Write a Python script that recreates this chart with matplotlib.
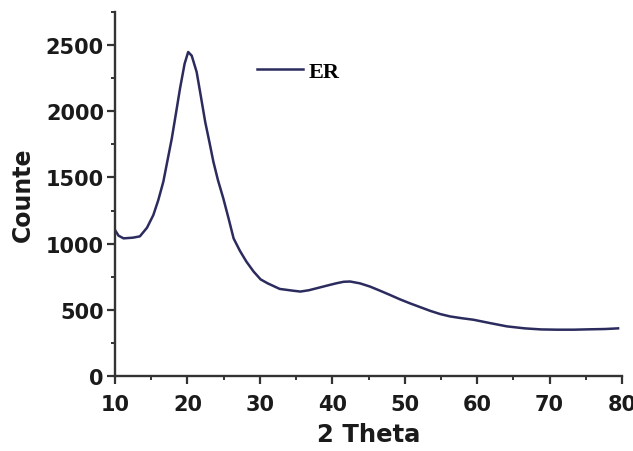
import matplotlib
matplotlib.use('Agg')
import matplotlib.pyplot as plt
from matplotlib.ticker import MultipleLocator

# XRD pattern
two_theta = [10.0, 10.49, 11.18, 12.45, 13.43, 14.41, 15.29, 15.98, 16.67, 17.25, 17.84,
             18.43, 18.97, 19.61, 20.10, 20.59, 21.27, 21.86, 22.45, 23.04, 23.58, 24.21,
             24.95, 25.68, 26.37, 27.25, 28.13, 29.12, 30.10, 31.08, 32.74, 34.51, 35.59,
             36.76, 37.84, 39.41, 40.59, 41.57, 42.45, 43.82, 45.19, 46.57, 47.94, 49.31,
             50.68, 52.15, 53.53, 54.90, 56.27, 57.84, 59.50, 61.76, 64.11, 66.56, 68.82,
             71.07, 73.33, 75.68, 77.64, 79.45]
counts = [1103, 1060, 1040, 1045, 1055, 1120, 1216, 1330, 1468, 1630, 1795,
          1990, 2171, 2360, 2448, 2420, 2297, 2110, 1920, 1765, 1619, 1480,
          1342, 1190, 1040, 945, 865, 790, 730, 700, 658, 645, 638,
          648, 663, 685, 701, 712, 714, 700, 676, 645, 613, 580,
          550, 520, 492, 468, 450, 437, 425, 400, 375, 360, 352,
          350, 350, 353, 355, 360]

fig = plt.figure(figsize=(6.33, 4.52), dpi=100)
ax = fig.add_axes([0.1817, 0.1659, 0.801, 0.8053])

ax.plot(two_theta, counts, color='#2b2b5e', linewidth=1.8, label='ER')

ax.set_xlim(10, 80)
ax.set_ylim(0, 2750)
ax.xaxis.set_major_locator(MultipleLocator(10))
ax.xaxis.set_minor_locator(MultipleLocator(5))
ax.yaxis.set_major_locator(MultipleLocator(500))
ax.yaxis.set_minor_locator(MultipleLocator(250))

for side in ['top', 'right']:
    ax.spines[side].set_visible(False)
for side in ['left', 'bottom']:
    ax.spines[side].set_linewidth(1.7)
    ax.spines[side].set_color('#333333')

ax.tick_params(which='major', direction='out', length=6, width=1.6, color='#333333',
               labelsize=15, pad=2)
ax.tick_params(axis='x', which='major', pad=7)
ax.tick_params(which='minor', direction='out', length=3, width=1.4, color='#333333')
for lbl in ax.get_xticklabels() + ax.get_yticklabels():
    lbl.set_fontweight('bold')
    lbl.set_color('#1a1a1a')

ax.set_xlabel('2 Theta', fontsize=17.5, fontweight='bold', color='#1a1a1a', labelpad=6)
ax.set_ylabel('Counte', fontsize=17, fontweight='bold', color='#1a1a1a', labelpad=8)

leg = ax.legend(loc='upper left', bbox_to_anchor=(0.24, 0.92), frameon=False,
                handlelength=2.1, handletextpad=0.25,
                prop={'family': 'Liberation Serif', 'weight': 'bold', 'size': 16})

fig.savefig('out.png', dpi=100)
